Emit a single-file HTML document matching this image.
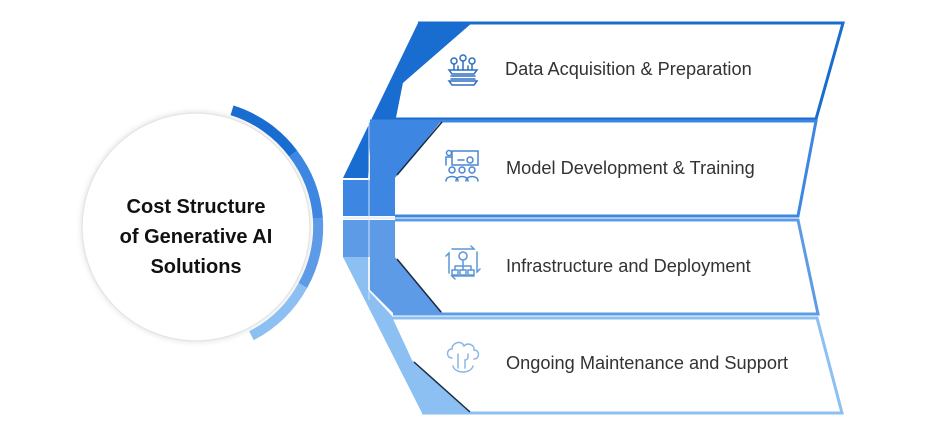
<!DOCTYPE html>
<html><head><meta charset="utf-8"><style>
html,body{margin:0;padding:0;background:#fff;width:930px;height:439px;overflow:hidden}
svg{display:block}
</style></head><body>
<svg width="930" height="439" viewBox="0 0 930 439" xmlns="http://www.w3.org/2000/svg">
<defs><filter id="sh" x="-20%" y="-20%" width="140%" height="140%"><feDropShadow dx="0" dy="0" stdDeviation="3" flood-color="#000" flood-opacity="0.12"/></filter></defs>
<!-- circle -->
<circle cx="196" cy="227" r="114" fill="#fff" stroke="#e6e6e6" stroke-width="1.5" filter="url(#sh)"/>
<g fill="none" stroke-width="10">
<path d="M 232.0 110.3 A 122 122 0 0 1 293.2 153.6" stroke="#1a6dd0"/>
<path d="M 293.2 153.6 A 122 122 0 0 1 317.9 218.5" stroke="#3d87e3"/>
<path d="M 317.9 218.5 A 122 122 0 0 1 302.8 285.6" stroke="#5d9be6"/>
<path d="M 302.8 285.6 A 122 122 0 0 1 251.4 335.7" stroke="#8cc0f2"/>
</g>
<g font-family="Liberation Sans, sans-serif" font-weight="bold" font-size="20" fill="#111" text-anchor="middle">
<text x="196" y="213">Cost Structure</text>
<text x="196" y="243">of Generative AI</text>
<text x="196" y="273">Solutions</text>
</g>
<!-- panel colored parts -->
<polygon points="418,23 472,23 403,83 396,118 372,118 368,178 343,178" fill="#1a6dd0"/>
<polygon points="370,120 442,120 395,178 395,216 343,216 343,180 370,180" fill="#3d87e3"/>
<polygon points="343,220 395,220 395,257 443,313 393,313 370,290 370,257 343,257" fill="#5d9be6"/>
<polygon points="343,257 368,257 368,290 393,317 412,360 472,413 422,413" fill="#8cc0f2"/>
<line x1="369" y1="120" x2="369" y2="300" stroke="#d5e5f8" stroke-width="1"/>
<line x1="343" y1="218" x2="396" y2="218" stroke="#e8f0fb" stroke-width="2"/>
<!-- panels -->
<polygon points="472,23 843,23 816,118 396,118 403,83" fill="#fff"/>
<polyline points="418,23 843,23 816,119 372,119" fill="none" stroke="#1a6dd0" stroke-width="3"/>
<polygon points="442,122 816,122 798,215 395,215 395,178" fill="#fff"/>
<polyline points="370,121 816,121 798,216 395,216" fill="none" stroke="#3d87e3" stroke-width="3"/>
<line x1="442" y1="122" x2="397" y2="175" stroke="#1b2a44" stroke-width="1.5"/>
<polygon points="395,221 798,221 818,313 443,313 395,257" fill="#fff"/>
<polyline points="395,220 798,220 818,314 393,314" fill="none" stroke="#5d9be6" stroke-width="3"/>
<line x1="397" y1="259" x2="441" y2="312" stroke="#1b2a44" stroke-width="1.5"/>
<polygon points="393,319 817,319 842,412 472,412 412,360" fill="#fff"/>
<polyline points="393,318 817,318 842,413 422,413" fill="none" stroke="#8cc0f2" stroke-width="3"/>
<line x1="414" y1="362" x2="470" y2="412" stroke="#1b2a44" stroke-width="1.5"/>
<!-- icons -->
<g fill="none" stroke-width="1.5" stroke-linecap="round">
<g stroke="#2f6fc2">
<circle cx="454" cy="61" r="3"/><circle cx="463" cy="58" r="3"/><circle cx="472" cy="61" r="3"/>
<path d="M454 64v6M463 61v9M472 64v6M458 66v4M468 66v4"/>
<path d="M449 70h28l-3 4h-22zM451 76h24M451 79h24M449 81h28l-3 4h-22z"/>
</g>
<g stroke="#4a86d4">
<rect x="452" y="151" width="26" height="14"/><circle cx="470" cy="160" r="3"/>
<circle cx="449" cy="153" r="2.5"/><path d="M446 165v-8h6M458 160h6"/>
<circle cx="452" cy="170" r="3"/><circle cx="462" cy="170" r="3"/><circle cx="472" cy="170" r="3"/>
<path d="M446 181c0-6 12-6 12 0M456 181c0-6 12-6 12 0M466 181c0-6 12-6 12 0"/>
</g>
<g stroke="#5d95d8">
<path d="M452 249h22l-3-3M477 252v20l3-3M474 276h-22l3 3M449 273v-20l-3 3"/>
<circle cx="463" cy="256" r="4"/><path d="M463 261v5M455 266h16M455 266v4M463 266v4M471 266v4"/>
<rect x="452" y="270" width="6" height="5"/><rect x="460" y="270" width="6" height="5"/><rect x="468" y="270" width="6" height="5"/>
</g>
<g stroke="#8db6e6">
<path d="M452 358c-6 0-6-9 0-9c0-7 10-9 12-3c4-4 11-1 10 4c6 0 6 9 0 9"/>
<path d="M458 354v14M468 354v3a3 3 0 0 1-3 3v8M453 366c2 8 18 8 20 0"/>
</g>
</g>
<!-- labels -->
<g font-family="Liberation Sans, sans-serif" font-size="18.2" fill="#333">
<text x="505" y="75">Data Acquisition &amp; Preparation</text>
<text x="506" y="174">Model Development &amp; Training</text>
<text x="506" y="272">Infrastructure and Deployment</text>
<text x="506" y="369">Ongoing Maintenance and Support</text>
</g>
</svg>
</body></html>
